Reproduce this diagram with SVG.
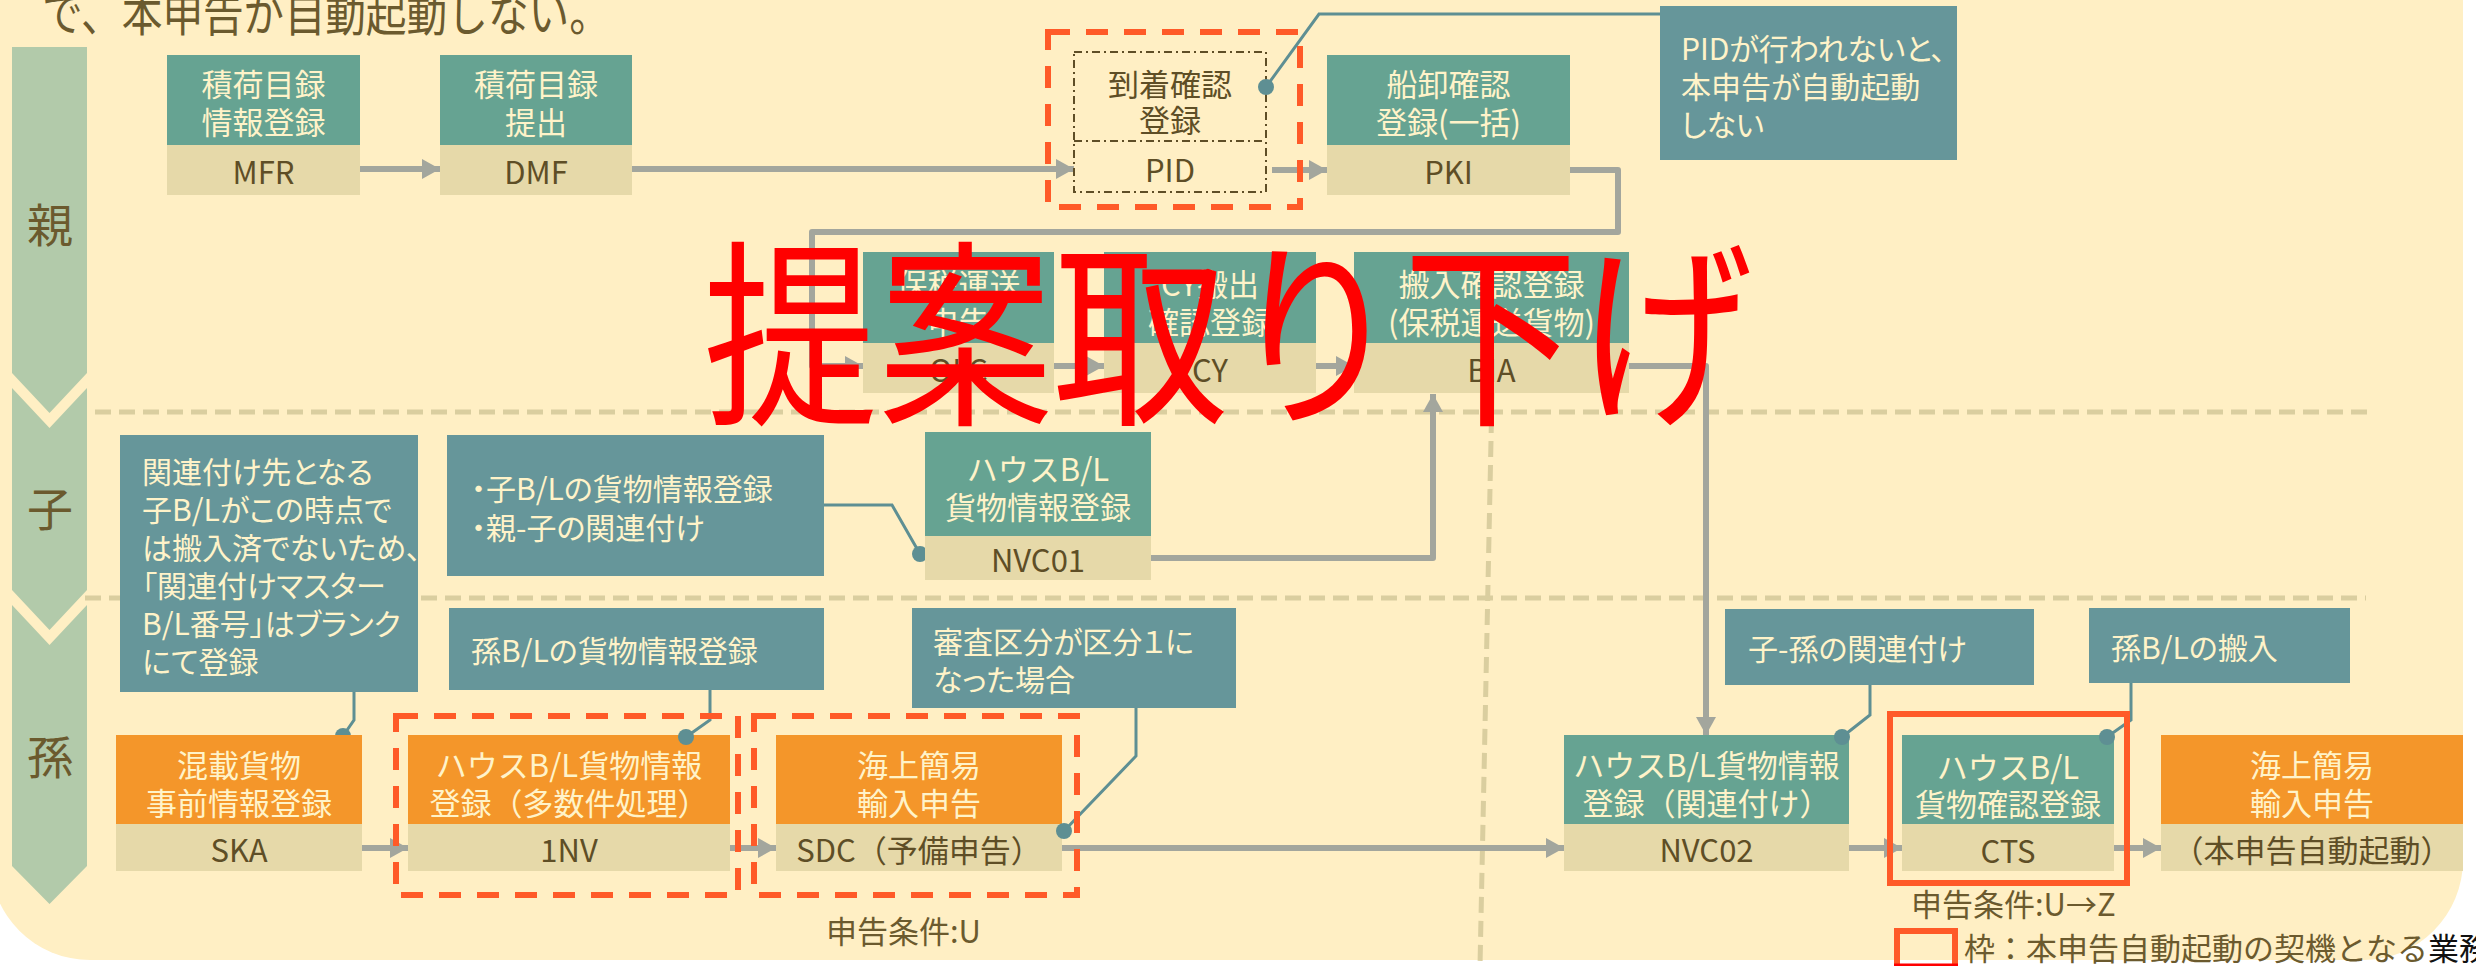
<svg xmlns="http://www.w3.org/2000/svg" width="2476" height="966" viewBox="0 0 2476 966">
<defs>
<style>
text{font-family:"Noto Sans CJK JP","Noto Sans",sans-serif;}
.title{font-size:31px;fill:#FFF3C9;text-anchor:middle;dominant-baseline:central;}
.code{font-size:31px;fill:#5E4E26;text-anchor:middle;dominant-baseline:central;}
.dark{font-size:31px;fill:#5E4E26;text-anchor:middle;dominant-baseline:central;}
.note{font-size:30px;fill:#FFF3C9;dominant-baseline:central;font-feature-settings:"palt";}
.lane{font-size:46px;fill:#6B5A2E;text-anchor:middle;dominant-baseline:central;}
.lbl{font-size:31px;fill:#6B5A2E;dominant-baseline:central;}
.teal{fill:#66A392}
.tan{fill:#E6D9A9}
.orange{fill:#F4962A}
.callout{fill:#66969A}
.bar{fill:#B2CAAA}
.conn{fill:none;stroke:#A3A69D;stroke-width:6;stroke-linejoin:round}
.lead{fill:none;stroke:#5E8F93;stroke-width:3}
.dot{fill:#5E8F93}
.sep{fill:none;stroke:#DACE9F;stroke-width:5;stroke-dasharray:16 8}
.redd{fill:none;stroke:#FF5A28;stroke-width:6;stroke-dasharray:22 16}
.reds{fill:none;stroke:#FF5A28;stroke-width:6}
</style>
<marker id="ah" markerUnits="userSpaceOnUse" markerWidth="18" markerHeight="20" refX="18" refY="10" orient="auto">
<path d="M0,0 L18,10 L0,20 z" fill="#A3A69D"/>
</marker>
</defs>

<rect x="0" y="0" width="2476" height="966" fill="#FFFFFF"/>
<rect x="-10" y="-120" width="2473" height="1080" rx="100" ry="100" fill="#FFEFC4"/>

<text x="42" y="31" font-size="48" fill="#6B5A2E" textLength="568" lengthAdjust="spacingAndGlyphs">で、本申告が自動起動しない。</text>

<g id="separators">
<path class="sep" d="M95,412 L2375,412"/>
<path class="sep" d="M85,598 L2366,598"/>
<path class="sep" d="M1492,393 L1480,966"/>
</g>

<g id="lanes">
<path class="bar" d="M12,47 H87 V373 L49.5,413 L12,373 Z"/>
<path class="bar" d="M12,388 L49.5,428 L87,388 V590 L49.5,630 L12,590 Z"/>
<path class="bar" d="M12,605 L49.5,645 L87,605 V866 L49.5,904 L12,866 Z"/>
<text class="lane" x="50" y="222">親</text>
<text class="lane" x="50" y="506">子</text>
<text class="lane" x="50" y="754">孫</text>
</g>

<g id="connectors">
<path class="conn" d="M360,169 L440,169" marker-end="url(#ah)"/>
<path class="conn" d="M632,169 L1074,169" marker-end="url(#ah)"/>
<path class="conn" d="M1272,170 L1327,170" marker-end="url(#ah)"/>
<path class="conn" d="M1570,170 L1618,170 L1618,232 L812,232 L812,366 L863,366" marker-end="url(#ah)"/>
<path class="conn" d="M1054,366 L1104,366" marker-end="url(#ah)"/>
<path class="conn" d="M1316,366 L1354,366" marker-end="url(#ah)"/>
<path class="conn" d="M1629,366 L1706,366 L1706,735" marker-end="url(#ah)"/>
<path class="conn" d="M1151,558 L1433,558 L1433,394" marker-end="url(#ah)"/>
<path class="conn" d="M362,848 L408,848" marker-end="url(#ah)"/>
<path class="conn" d="M730,848 L776,848" marker-end="url(#ah)"/>
<path class="conn" d="M1062,848 L1564,848" marker-end="url(#ah)"/>
<path class="conn" d="M1849,848 L1902,848" marker-end="url(#ah)"/>
<path class="conn" d="M2114,848 L2161,848" marker-end="url(#ah)"/>
</g>

<g id="node-MFR">
<rect class="teal" x="167" y="55" width="193" height="90"/>
<rect class="tan" x="167" y="145" width="193" height="50"/>
<text class="title" x="263.5" y="82">積荷目録</text>
<text class="title" x="263.5" y="120">情報登録</text>
<text class="code" x="263.5" y="170">MFR</text>
</g>
<g id="node-DMF">
<rect class="teal" x="440" y="55" width="192" height="90"/>
<rect class="tan" x="440" y="145" width="192" height="50"/>
<text class="title" x="536" y="82">積荷目録</text>
<text class="title" x="536" y="120">提出</text>
<text class="code" x="536" y="170">DMF</text>
</g>
<g id="node-PID">
<rect x="1074" y="52" width="192" height="140" fill="none" stroke="#5E4E26" stroke-width="2" stroke-dasharray="8 4 2 4"/>
<line x1="1074" y1="141" x2="1266" y2="141" stroke="#5E4E26" stroke-width="2" stroke-dasharray="8 4 2 4"/>
<text class="dark" x="1170" y="82">到着確認</text>
<text class="dark" x="1170" y="118">登録</text>
<text class="code" x="1170" y="168">PID</text>
<rect class="redd" x="1048" y="32" width="252" height="175"/>
</g>
<g id="node-PKI">
<rect class="teal" x="1327" y="55" width="243" height="90"/>
<rect class="tan" x="1327" y="145" width="243" height="50"/>
<text class="title" x="1448.5" y="82">船卸確認</text>
<text class="title" x="1448.5" y="120">登録(一括)</text>
<text class="code" x="1448.5" y="170">PKI</text>
</g>
<g id="callout-PID">
<path class="lead" d="M1660,14 L1319,14 L1266,87"/>
<circle class="dot" cx="1266" cy="87" r="8"/>
<rect class="callout" x="1660" y="6" width="297" height="154"/>
<text class="note" x="1681" y="47">PIDが行われないと、</text>
<text class="note" x="1681" y="85">本申告が自動起動</text>
<text class="note" x="1681" y="123">しない</text>
</g>

<g id="node-OLC">
<rect class="teal" x="863" y="252" width="191" height="91"/>
<rect class="tan" x="863" y="343" width="191" height="50"/>
<text class="title" x="958.5" y="282">保税運送</text>
<text class="title" x="958.5" y="320">申告</text>
<text class="code" x="958.5" y="368">OLC</text>
</g>
<g id="node-CY">
<rect class="teal" x="1104" y="252" width="212" height="91"/>
<rect class="tan" x="1104" y="343" width="212" height="50"/>
<text class="title" x="1210" y="282">CY搬出</text>
<text class="title" x="1210" y="320">確認登録</text>
<text class="code" x="1210" y="368">CY</text>
</g>
<g id="node-BIA">
<rect class="teal" x="1354" y="252" width="275" height="91"/>
<rect class="tan" x="1354" y="343" width="275" height="50"/>
<text class="title" x="1491.5" y="282">搬入確認登録</text>
<text class="title" x="1491.5" y="320">(保税運送貨物)</text>
<text class="code" x="1491.5" y="368">BIA</text>
</g>

<g id="callout-1">
<path class="lead" d="M354,692 L354,720 L343,736"/>
<circle class="dot" cx="343" cy="736" r="8"/>
<rect class="callout" x="120" y="435" width="298" height="257"/>
<text class="note" x="142" y="470" font-size="29">関連付け先となる</text>
<text class="note" x="142" y="508" font-size="29">子B/Lがこの時点で</text>
<text class="note" x="142" y="546" font-size="29">は搬入済でないため、</text>
<text class="note" x="142" y="584" font-size="29">「関連付けマスター</text>
<text class="note" x="142" y="622" font-size="29">B/L番号」はブランク</text>
<text class="note" x="142" y="660" font-size="29">にて登録</text>
</g>
<g id="callout-2">
<path class="lead" d="M824,505 L892,505 L920,554"/>
<circle class="dot" cx="920" cy="554" r="8"/>
<rect class="callout" x="447" y="435" width="377" height="141"/>
<text class="note" x="471" y="487">・子B/Lの貨物情報登録</text>
<text class="note" x="471" y="526">・親-子の関連付け</text>
</g>
<g id="node-NVC01">
<rect class="teal" x="925" y="432" width="226" height="104"/>
<rect class="tan" x="925" y="536" width="226" height="44"/>
<text class="title" x="1038" y="467">ハウスB/L</text>
<text class="title" x="1038" y="505">貨物情報登録</text>
<text class="code" x="1038" y="558">NVC01</text>
</g>

<g id="callout-3">
<path class="lead" d="M710,690 L710,720 L686,737"/>
<rect class="callout" x="449" y="608" width="375" height="82"/>
<text class="note" x="471" y="649">孫B/Lの貨物情報登録</text>
</g>
<g id="callout-4">
<path class="lead" d="M1136,708 L1136,756 L1064,831"/>
<rect class="callout" x="912" y="608" width="324" height="100"/>
<text class="note" x="933" y="640">審査区分が区分１に</text>
<text class="note" x="933" y="678">なった場合</text>
</g>
<g id="callout-5">
<path class="lead" d="M1870,685 L1870,715 L1842,737"/>
<rect class="callout" x="1725" y="609" width="309" height="76"/>
<text class="note" x="1748" y="647">子-孫の関連付け</text>
</g>
<g id="callout-6">
<path class="lead" d="M2131,683 L2131,720 L2107,737"/>
<rect class="callout" x="2089" y="608" width="261" height="75"/>
<text class="note" x="2111" y="646">孫B/Lの搬入</text>
</g>

<g id="node-SKA">
<rect class="orange" x="116" y="735" width="246" height="89"/>
<rect class="tan" x="116" y="824" width="246" height="47"/>
<text class="title" x="239" y="763">混載貨物</text>
<text class="title" x="239" y="801">事前情報登録</text>
<text class="code" x="239" y="848">SKA</text>
</g>
<g id="node-1NV">
<rect class="orange" x="408" y="735" width="322" height="89"/>
<rect class="tan" x="408" y="824" width="322" height="47"/>
<text class="title" x="569" y="763">ハウスB/L貨物情報</text>
<text class="title" x="569" y="801">登録（多数件処理）</text>
<text class="code" x="569" y="848">1NV</text>
<rect class="redd" x="396" y="716" width="342" height="179"/>
</g>
<g id="node-SDC">
<rect class="orange" x="776" y="735" width="286" height="89"/>
<rect class="tan" x="776" y="824" width="286" height="47"/>
<text class="title" x="919" y="763">海上簡易</text>
<text class="title" x="919" y="801">輸入申告</text>
<text class="code" x="919" y="848">SDC（予備申告）</text>
<rect class="redd" x="754" y="716" width="323" height="179"/>
</g>
<g id="node-NVC02">
<rect class="teal" x="1564" y="735" width="285" height="89"/>
<rect class="tan" x="1564" y="824" width="285" height="47"/>
<text class="title" x="1706.5" y="763">ハウスB/L貨物情報</text>
<text class="title" x="1706.5" y="801">登録（関連付け）</text>
<text class="code" x="1706.5" y="848">NVC02</text>
</g>
<g id="node-CTS">
<rect class="teal" x="1902" y="735" width="212" height="89"/>
<rect class="tan" x="1902" y="824" width="212" height="47"/>
<text class="title" x="2008" y="765">ハウスB/L</text>
<text class="title" x="2008" y="802">貨物確認登録</text>
<text class="code" x="2008" y="849">CTS</text>
<rect class="reds" x="1890" y="714" width="237" height="169"/>
</g>
<g id="node-final">
<rect class="orange" x="2161" y="735" width="302" height="89"/>
<rect class="tan" x="2161" y="824" width="302" height="47"/>
<text class="title" x="2312" y="763">海上簡易</text>
<text class="title" x="2312" y="801">輸入申告</text>
<text class="code" x="2312" y="848">（本申告自動起動）</text>
</g>

<g id="dots">
<circle class="dot" cx="686" cy="737" r="8"/>
<circle class="dot" cx="1064" cy="831" r="8"/>
<circle class="dot" cx="1842" cy="737" r="8"/>
<circle class="dot" cx="2107" cy="737" r="8"/>
</g>

<g id="labels">
<text class="lbl" x="826" y="929">申告条件:U</text>
<text class="lbl" x="1911" y="902">申告条件:U→Z</text>
<rect class="reds" x="1897" y="931" width="58" height="45"/>
<line x1="1894" y1="965" x2="1958" y2="965" stroke="#FF0000" stroke-width="3"/>
<text class="lbl" x="1964" y="946">枠：本申告自動起動の契機となる<tspan fill="#111111">業務</tspan></text>
</g>

<text x="703" y="410" font-size="200" fill="#FF0000" textLength="1050" lengthAdjust="spacingAndGlyphs">提案取り下げ</text>
</svg>
